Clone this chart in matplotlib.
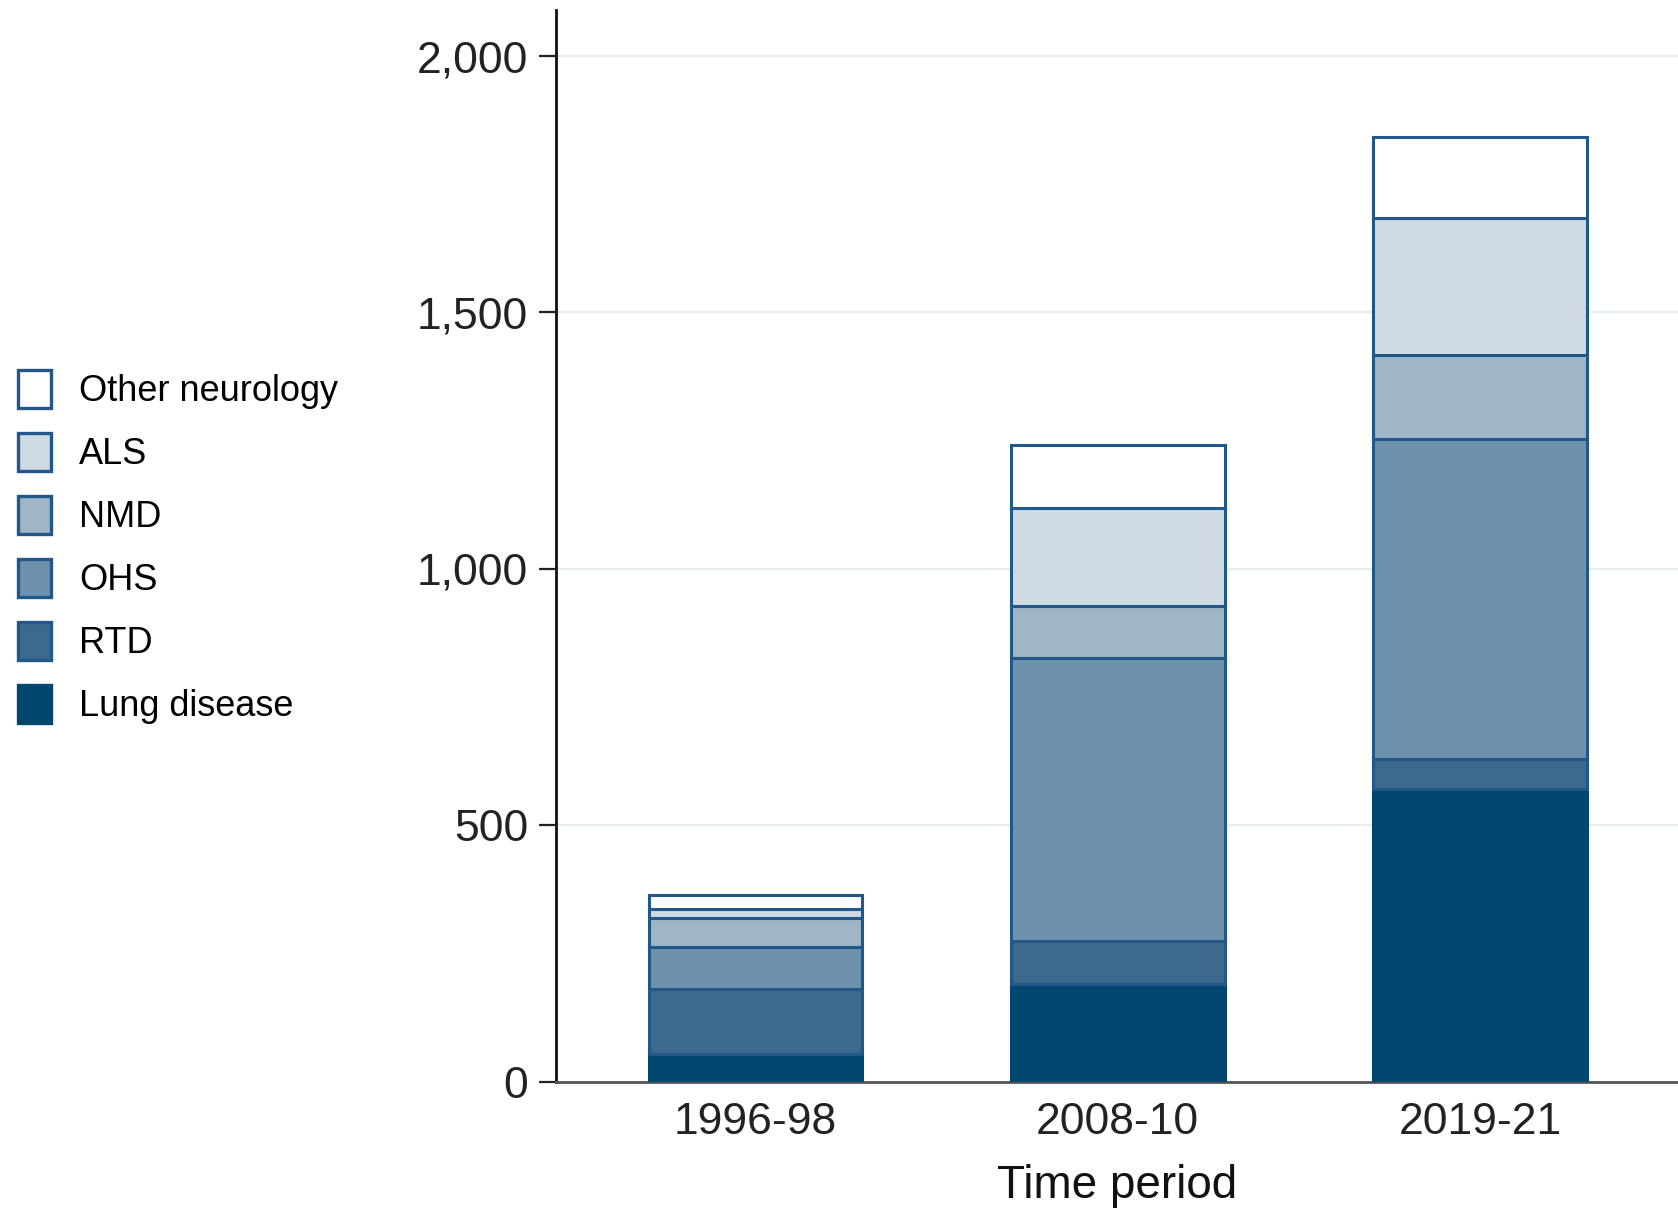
import matplotlib
matplotlib.use("Agg")
import matplotlib.pyplot as plt
from matplotlib.patches import Patch
from matplotlib.ticker import FuncFormatter

periods = ["1996-98", "2008-10", "2019-21"]
categories = ["Lung disease", "RTD", "OHS", "NMD", "ALS", "Other neurology"]
lung_disease = [54, 190, 570]
rtd = [127, 85, 60]
ohs = [81, 551, 623]
nmd = [57, 102, 165]
als = [17, 191, 266]
other_neurology = [27, 123, 158]
series = [lung_disease, rtd, ohs, nmd, als, other_neurology]
colors = ["#00466f", "#3d6a8c", "#6e92ad", "#a0b5c6", "#d0dae3", "#ffffff"]
edge = "#22578a"
yticks = [0, 500, 1000, 1500, 2000]

plt.rcParams['font.family'] = ['Liberation Sans', 'DejaVu Sans']

fig = plt.figure(figsize=(16.78, 12.10), dpi=100)
ax = fig.add_axes([556/1678, 1 - 1081.5/1210, 1 - 556/1678, (1081.5 - 10)/1210])

x = list(range(len(periods)))
bottom = [0] * len(periods)
for vals, col, name in zip(series, colors, categories):
    ec = col if name == "Lung disease" else edge
    ax.bar(x, vals, bottom=bottom, width=0.59, color=col, edgecolor=ec,
           linewidth=2.2, zorder=3)
    bottom = [b + v for b, v in zip(bottom, vals)]

ax.set_xlim(-0.551, 2.547)
ax.set_ylim(0, 2090)
ax.set_yticks(yticks)
ax.yaxis.set_major_formatter(FuncFormatter(lambda v, p: f"{int(v):,}"))
ax.set_xticks(x)
ax.set_xticklabels(periods)
ax.tick_params(axis='y', labelsize=32, length=12, width=1.6, direction='out', pad=8, colors='#222222')
ax.tick_params(axis='x', labelsize=32, length=0, pad=15, colors='#222222')
ax.set_xlabel("Time period", fontsize=33, labelpad=15, color='#111111')
for s in ['top', 'right']:
    ax.spines[s].set_visible(False)
ax.spines['left'].set_linewidth(2.0)
ax.spines['left'].set_color('#111111')
ax.spines['bottom'].set_linewidth(2.0)
ax.spines['bottom'].set_color('#555555')
ax.yaxis.grid(True, color='#e6eeee', linewidth=1.6, zorder=0)
ax.set_axisbelow(True)

handles = []
for col, name in zip(colors[::-1], categories[::-1]):
    ec = col if name == "Lung disease" else edge
    handles.append(Patch(facecolor=col, edgecolor=ec, linewidth=2.4, label=name))
fig.legend(handles=handles, loc='center left', bbox_to_anchor=(18/1678, 0.548),
           frameon=False, fontsize=26, handlelength=0.9, handleheight=1.25,
           handletextpad=0.8, labelspacing=0.66, borderpad=0, borderaxespad=0)

fig.savefig("out.png", dpi=100)
